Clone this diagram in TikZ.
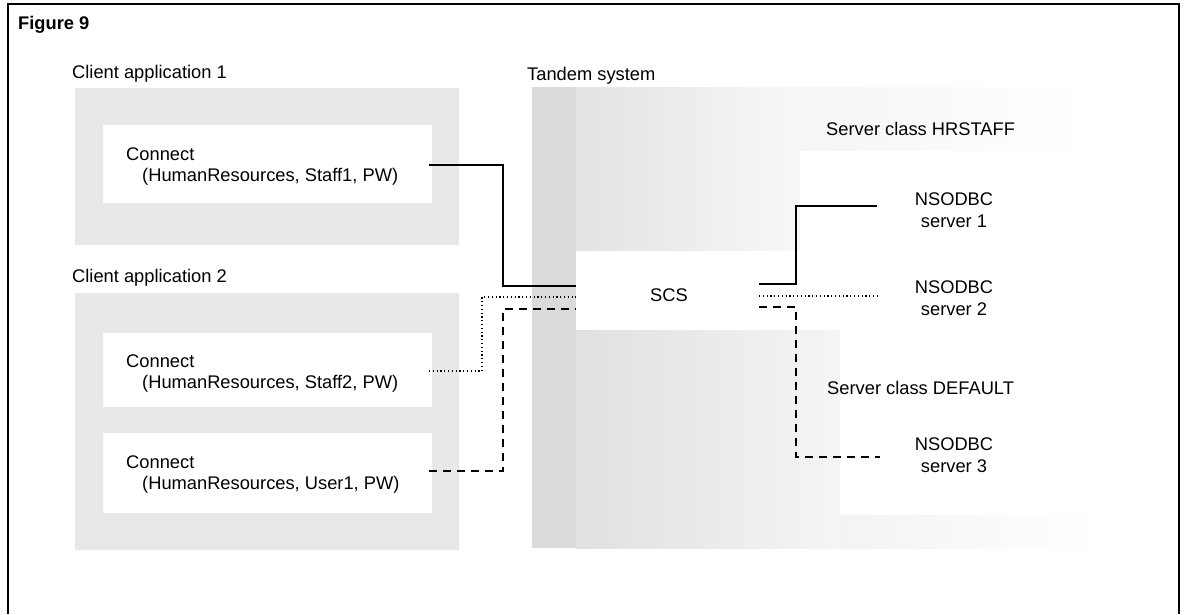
\documentclass[tikz,border=0pt]{standalone}
\usepackage{fontspec}
\setmainfont{Liberation Sans}
\usepackage{tikz}

\begin{document}
\begin{tikzpicture}[x=1pt, y=-1pt,
  label/.style={anchor=base west, inner sep=0pt, font=\fontsize{18.3}{21.5}\selectfont},
  server/.style={anchor=north, inner sep=0pt, align=center, font=\fontsize{18.3}{21.5}\selectfont},
  stipple/.style={fill=black!9, draw=none},
  solidlink/.style={line width=1.4pt},
  dotlink/.style={line width=1.3pt, dash pattern=on 1.2pt off 2.6pt},
  dashlink/.style={line width=1.3pt, dash pattern=on 8pt off 6pt}]
  \useasboundingbox (0,0) rectangle (1184,614);
  \fill[white] (0,0) rectangle (1184,614);
  \draw[line width=1.5pt] (8,614) -- (8,4) -- (1179,4) -- (1179,614);
  \node[label, font=\fontsize{18.3}{21.5}\selectfont\bfseries] (fig) at (18,29) {Figure 9};

  \fill[stipple, even odd rule] (75,88) rectangle (459,245) (103,125) rectangle (432,203);
  \fill[stipple, even odd rule] (75,293) rectangle (459,550)
    (103,333) rectangle (432,407) (103,433) rectangle (432,513);

  \shade[left color=black!4, right color=white] (780,87) rectangle (1085,150);
  \shade[left color=black!5, right color=white] (820,515) rectangle (1100,548);
  \shade[left color=black!11, right color=black!3] (576,87) rectangle (800,250);
  \shade[left color=black!12, right color=black!4] (576,330) rectangle (840,548);
  \fill[black!14] (532,87) rectangle (576,548);

  \node[label] (client1) at (72,78) {Client application 1};
  \node[label] (client2) at (72,282) {Client application 2};
  \node[label] (tandem) at (527,80) {Tandem system};
  \node[label] (conn1) at (126,160) {Connect};
  \node[label] (args1) at (142,181) {(HumanResources, Staff1, PW)};
  \node[label] (conn2) at (126,367) {Connect};
  \node[label] (args2) at (142,388) {(HumanResources, Staff2, PW)};
  \node[label] (conn3) at (126,468) {Connect};
  \node[label] (args3) at (142,489) {(HumanResources, User1, PW)};
  \node[label] (scs) at (650,301) {SCS};
  \node[label] (hrstaff) at (826,135) {Server class HRSTAFF};
  \node[label] (default) at (827,394) {Server class DEFAULT};
  \node[server] (srv1) at (954,193) {NSODBC\\server 1};
  \node[server] (srv2) at (954,281) {NSODBC\\server 2};
  \node[server] (srv3) at (954,438) {NSODBC\\server 3};

  \coordinate (out1) at (429,165);
  \coordinate (out2) at (429,371);
  \coordinate (out3) at (429,471);
  \coordinate (in1) at (576,286);
  \coordinate (in2) at (576,297);
  \coordinate (in3) at (576,309);
  \coordinate (sv1) at (759,284);
  \coordinate (sv2) at (759,296);
  \coordinate (sv3) at (759,307);
  \coordinate (to1) at (877,206);
  \coordinate (to2) at (877,296);
  \coordinate (to3) at (880,457);

  \draw[solidlink] (out1) -- ++(74,0) |- (in1);
  \draw[dotlink] (out2) -- ++(53,0) |- (in2);
  \draw[dashlink] (out3) -- ++(74,0) |- (in3);
  \draw[solidlink] (sv1) -- ++(37,0) |- (to1);
  \draw[dotlink] (sv2) -- (to2);
  \draw[dashlink] (sv3) -- ++(37,0) |- (to3);
\end{tikzpicture}
\end{document}
